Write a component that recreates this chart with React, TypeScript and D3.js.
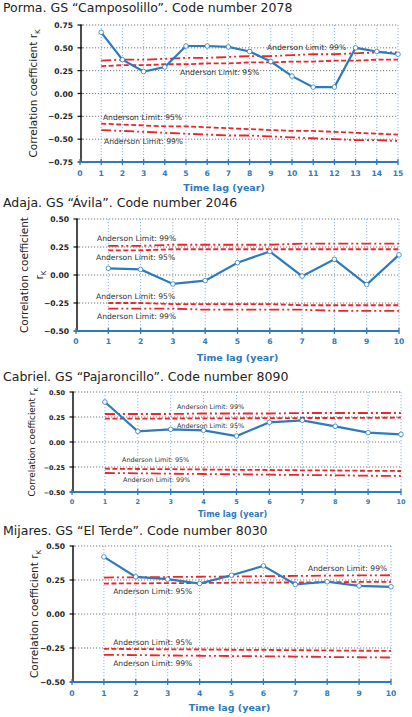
import React, { useEffect, useRef } from 'react';
import * as d3 from 'd3';

// Correlograms, four gauging stations
const lags15 = [1, 2, 3, 4, 5, 6, 7, 8, 9, 10, 11, 12, 13, 14, 15];
const lags10 = [1, 2, 3, 4, 5, 6, 7, 8, 9, 10];

const pormaR = [0.67, 0.37, 0.24, 0.29, 0.52, 0.52, 0.51, 0.46, 0.35, 0.19, 0.07, 0.07, 0.5, 0.46, 0.43];
const pormaUp99 = [0.36, 0.37, 0.37, 0.38, 0.39, 0.39, 0.4, 0.41, 0.41, 0.42, 0.43, 0.43, 0.44, 0.45, 0.45];
const pormaUp95 = [0.3, 0.31, 0.31, 0.32, 0.32, 0.33, 0.33, 0.34, 0.34, 0.35, 0.35, 0.36, 0.36, 0.37, 0.37];
const pormaLo95 = [-0.33, -0.34, -0.35, -0.36, -0.36, -0.37, -0.38, -0.39, -0.4, -0.41, -0.41, -0.42, -0.43, -0.44, -0.45];
const pormaLo99 = [-0.4, -0.41, -0.42, -0.43, -0.44, -0.45, -0.46, -0.46, -0.47, -0.48, -0.49, -0.5, -0.51, -0.51, -0.52];

const adajaR = [0.06, 0.05, -0.08, -0.05, 0.11, 0.21, -0.01, 0.14, -0.085, 0.18];
const adajaUp99 = [0.26, 0.26, 0.27, 0.27, 0.27, 0.27, 0.28, 0.28, 0.28, 0.28];
const adajaUp95 = [0.22, 0.22, 0.23, 0.23, 0.23, 0.23, 0.23, 0.23, 0.23, 0.23];
const adajaLo95 = [-0.25, -0.25, -0.26, -0.26, -0.26, -0.26, -0.27, -0.27, -0.27, -0.27];
const adajaLo99 = [-0.3, -0.3, -0.3, -0.31, -0.31, -0.31, -0.31, -0.32, -0.32, -0.32];

const cabrielR = [0.4, 0.107, 0.127, 0.117, 0.06, 0.197, 0.217, 0.157, 0.093, 0.077];
const cabrielUp99 = [0.28, 0.28, 0.28, 0.285, 0.285, 0.285, 0.29, 0.29, 0.29, 0.29];
const cabrielUp95 = [0.233, 0.233, 0.235, 0.236, 0.237, 0.238, 0.24, 0.24, 0.242, 0.243];
const cabrielLo95 = [-0.267, -0.27, -0.272, -0.275, -0.278, -0.28, -0.283, -0.285, -0.288, -0.29];
const cabrielLo99 = [-0.31, -0.313, -0.317, -0.32, -0.323, -0.327, -0.33, -0.333, -0.337, -0.34];

const mijaresR = [0.42, 0.273, 0.256, 0.224, 0.285, 0.354, 0.217, 0.237, 0.207, 0.2];
const mijaresUp99 = [0.268, 0.27, 0.272, 0.274, 0.276, 0.278, 0.28, 0.282, 0.284, 0.285];
const mijaresUp95 = [0.224, 0.225, 0.227, 0.228, 0.23, 0.231, 0.232, 0.234, 0.236, 0.237];
const mijaresLo95 = [-0.256, -0.258, -0.26, -0.261, -0.263, -0.264, -0.266, -0.268, -0.27, -0.271];
const mijaresLo99 = [-0.3, -0.302, -0.305, -0.307, -0.309, -0.311, -0.313, -0.316, -0.318, -0.32];

const yTicks075 = [-0.75, -0.5, -0.25, 0, 0.25, 0.5, 0.75];
const yTicks050 = [-0.5, -0.25, 0, 0.25, 0.5];

const BLUE = '#2c7bbf';
const RED = '#e8262b';
const FONT = '"DejaVu Sans", Verdana, sans-serif';

interface LabelPos { lag: number; value: number; }

interface PanelCfg {
  title: string;
  titleY: number;
  left: number; right: number; top: number; bottom: number;
  maxLag: number;
  yTicks: number[];
  lags: number[];
  r: number[];
  up99: number[]; up95: number[]; lo95: number[]; lo99: number[];
  labels: { up99: LabelPos; up95: LabelPos; lo95: LabelPos; lo99: LabelPos };
  tickY: number;
  xLabelY: number;
  xLabelShift?: number;
  yLabelX: number;
  twoLineYLabel?: boolean;
  fontScale?: number;
}

const panels: PanelCfg[] = [
  {
    title: 'Porma. GS “Camposolillo”. Code number 2078', titleY: 12,
    left: 80, right: 398, top: 25, bottom: 162, maxLag: 15, yTicks: yTicks075,
    lags: lags15, r: pormaR, up99: pormaUp99, up95: pormaUp95, lo95: pormaLo95, lo99: pormaLo99,
    labels: {
      up99: { lag: 8.82, value: 0.476 }, up95: { lag: 4.72, value: 0.203 },
      lo95: { lag: 1.08, value: -0.29 }, lo99: { lag: 1.13, value: -0.553 },
    },
    tickY: 176, xLabelY: 191, xLabelShift: -15, yLabelX: 37,
  },
  {
    title: 'Adaja. GS “Ávila”. Code number 2046', titleY: 207,
    left: 76, right: 399, top: 219, bottom: 331, maxLag: 10, yTicks: yTicks050,
    lags: lags10, r: adajaR, up99: adajaUp99, up95: adajaUp95, lo95: adajaLo95, lo99: adajaLo99,
    labels: {
      up99: { lag: 0.65, value: 0.304 }, up95: { lag: 0.62, value: 0.134 },
      lo95: { lag: 0.62, value: -0.214 }, lo99: { lag: 0.65, value: -0.393 },
    },
    tickY: 344, xLabelY: 361, yLabelX: 28, twoLineYLabel: true,
  },
  {
    title: 'Cabriel. GS “Pajaroncillo”. Code number 8090', titleY: 381,
    left: 72, right: 401, top: 392, bottom: 492, maxLag: 10, yTicks: yTicks050,
    lags: lags10, r: cabrielR, up99: cabrielUp99, up95: cabrielUp95, lo95: cabrielLo95, lo99: cabrielLo99,
    labels: {
      up99: { lag: 3.19, value: 0.33 }, up95: { lag: 3.19, value: 0.14 },
      lo95: { lag: 1.52, value: -0.2 }, lo99: { lag: 1.55, value: -0.4 },
    },
    tickY: 504, xLabelY: 517, xLabelShift: -4, yLabelX: 35, fontScale: 0.85,
  },
  {
    title: 'Mijares. GS “El Terde”. Code number 8030', titleY: 535,
    left: 72, right: 391, top: 546, bottom: 682, maxLag: 10, yTicks: yTicks050,
    lags: lags10, r: mijaresR, up99: mijaresUp99, up95: mijaresUp95, lo95: mijaresLo95, lo99: mijaresLo99,
    labels: {
      up99: { lag: 7.4, value: 0.316 }, up95: { lag: 1.29, value: 0.147 },
      lo95: { lag: 1.29, value: -0.228 }, lo99: { lag: 1.29, value: -0.382 },
    },
    tickY: 696, xLabelY: 711, xLabelShift: -2, yLabelX: 38,
  },
];

function drawPanel(svg: d3.Selection<SVGSVGElement, unknown, null, undefined>, p: PanelCfg) {
  const fs = p.fontScale ?? 1;
  const g = svg.append('g');
  const x = d3.scaleLinear().domain([0, p.maxLag]).range([p.left, p.right]);
  const ext = d3.extent(p.yTicks) as [number, number];
  const y = d3.scaleLinear().domain(ext).range([p.bottom, p.top]);

  // Title
  g.append('text')
    .attr('x', 3).attr('y', p.titleY)
    .style('font-family', FONT).style('font-size', '12.5px').attr('fill', '#222')
    .text(p.title);

  // Horizontal grid (dotted dark)
  g.selectAll('.hgrid').data(p.yTicks.filter(t => t !== ext[0])).enter()
    .append('line')
    .attr('x1', p.left).attr('x2', p.right)
    .attr('y1', d => y(d)).attr('y2', d => y(d))
    .attr('stroke', '#555').attr('stroke-width', 0.8).attr('stroke-dasharray', '1.2,1.8');

  // Vertical grid (dotted blue)
  g.selectAll('.vgrid').data(d3.range(1, p.maxLag + 1)).enter()
    .append('line')
    .attr('x1', d => x(d)).attr('x2', d => x(d))
    .attr('y1', p.top).attr('y2', p.bottom)
    .attr('stroke', '#6fa3da').attr('stroke-width', 0.8).attr('stroke-dasharray', '1.2,1.8');

  // Anderson limit lines
  const lim = d3.line<number>().x((_, i) => x(p.lags[i])).y(d => y(d));
  const limits: [number[], string][] = [
    [p.up99, '10,3,2,3,2,3'], [p.up95, '5,2.5'],
    [p.lo95, '5,2.5'], [p.lo99, '10,3,2,3,2,3'],
  ];
  limits.forEach(([vals, dash]) => {
    g.append('path').datum(vals)
      .attr('d', lim).attr('fill', 'none')
      .attr('stroke', RED).attr('stroke-width', 1.8).attr('stroke-dasharray', dash);
  });

  // Anderson labels
  const lbl: [LabelPos, string][] = [
    [p.labels.up99, 'Anderson Limit: 99%'], [p.labels.up95, 'Anderson Limit: 95%'],
    [p.labels.lo95, 'Anderson Limit: 95%'], [p.labels.lo99, 'Anderson Limit: 99%'],
  ];
  lbl.forEach(([pos, txt]) => {
    g.append('text')
      .attr('x', x(pos.lag)).attr('y', y(pos.value))
      .style('font-family', FONT).style('font-size', `${7.6 * fs}px`).attr('fill', '#333')
      .text(txt);
  });

  // Correlation line + markers
  const line = d3.line<number>().x((_, i) => x(p.lags[i])).y(d => y(d));
  g.append('path').datum(p.r)
    .attr('d', line).attr('fill', 'none')
    .attr('stroke', BLUE).attr('stroke-width', 2.2);
  g.selectAll('.pt').data(p.r).enter()
    .append('circle')
    .attr('cx', (_, i) => x(p.lags[i])).attr('cy', d => y(d))
    .attr('r', 2.3).attr('fill', 'white').attr('stroke', BLUE).attr('stroke-width', 0.8);

  // Y axis
  g.append('line')
    .attr('x1', p.left + 1).attr('x2', p.left + 1).attr('y1', p.top).attr('y2', p.bottom)
    .attr('stroke', '#111').attr('stroke-width', 1.5);
  g.selectAll('.ytick').data(p.yTicks).enter()
    .append('line')
    .attr('x1', p.left - 2.5).attr('x2', p.left + 2.5)
    .attr('y1', d => y(d)).attr('y2', d => y(d))
    .attr('stroke', '#111').attr('stroke-width', 1.2);
  g.selectAll('.ylab').data(p.yTicks).enter()
    .append('text')
    .attr('x', p.left - 7).attr('y', d => y(d) + 3)
    .attr('text-anchor', 'end')
    .style('font-family', FONT).style('font-size', `${7.6 * fs}px`).style('font-weight', 'bold')
    .attr('fill', '#222')
    .text(d => d3.format('.2f')(d));

  // X axis
  g.append('line')
    .attr('x1', p.left).attr('x2', p.right).attr('y1', p.bottom).attr('y2', p.bottom)
    .attr('stroke', BLUE).attr('stroke-width', 2);
  g.selectAll('.xtick').data(d3.range(0, p.maxLag + 1)).enter()
    .append('line')
    .attr('x1', d => x(d)).attr('x2', d => x(d))
    .attr('y1', p.bottom - 3).attr('y2', p.bottom + 3)
    .attr('stroke', BLUE).attr('stroke-width', 1.3);
  g.selectAll('.xlab').data(d3.range(0, p.maxLag + 1)).enter()
    .append('text')
    .attr('x', d => x(d)).attr('y', p.tickY)
    .attr('text-anchor', 'middle')
    .style('font-family', FONT).style('font-size', `${7.6 * fs}px`).style('font-weight', 'bold')
    .attr('fill', BLUE)
    .text(d => String(d));

  g.append('text')
    .attr('x', (p.left + p.right) / 2 + (p.xLabelShift ?? 0)).attr('y', p.xLabelY)
    .attr('text-anchor', 'middle')
    .style('font-family', FONT).style('font-size', `${9.5 * fs}px`).style('font-weight', 'bold')
    .attr('fill', BLUE)
    .text('Time lag  (year)');

  // Y axis title
  const cy = (p.top + p.bottom) / 2;
  const yt = g.append('text')
    .attr('transform', `translate(${p.yLabelX},${cy}) rotate(-90)`)
    .attr('text-anchor', 'middle')
    .style('font-family', FONT).style('font-size', `${10.5 * fs}px`)
    .attr('fill', '#222');
  if (p.twoLineYLabel) {
    yt.append('tspan').attr('x', 0).attr('y', 0).text('Correlation coefficient');
    const t2 = g.append('text')
      .attr('transform', `translate(${p.yLabelX + 15},${cy}) rotate(-90)`)
      .attr('text-anchor', 'middle')
      .style('font-family', FONT).style('font-size', `${10.5 * fs}px`)
      .attr('fill', '#222');
    t2.append('tspan').text('r');
    t2.append('tspan').attr('dy', 3).style('font-size', `${7 * fs}px`).text('K');
  } else {
    yt.append('tspan').text('Correlation coefficient r');
    yt.append('tspan').attr('dy', 3).style('font-size', `${7 * fs}px`).text('K');
  }
}

const App: React.FC = () => {
  const ref = useRef<SVGSVGElement>(null);

  useEffect(() => {
    if (!ref.current) return;
    const svg = d3.select(ref.current);
    svg.selectAll('*').remove();
    panels.forEach(p => drawPanel(svg, p));
  }, []);

  return (
    <div style={{ position: 'absolute', left: 0, top: 0 }}>
      <svg ref={ref} width={412} height={717} style={{ display: 'block', background: 'white' }} />
    </div>
  );
};

export default App;
